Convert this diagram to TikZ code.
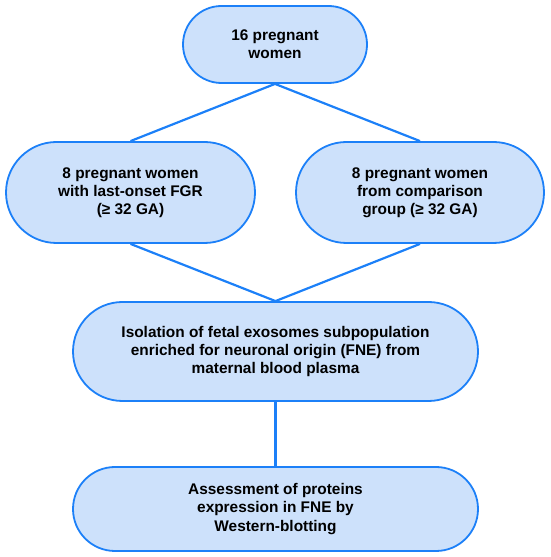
\documentclass[tikz,border=0pt]{standalone}
\usepackage{fontspec}
\setmainfont{Liberation Sans}
\definecolor{pillborder}{RGB}{28,128,248}
\definecolor{pillfill}{RGB}{205,225,251}
\begin{document}
\begin{tikzpicture}[x=1pt,y=1pt,
  pill/.style={draw=pillborder, fill=pillfill, line width=1.8pt, rectangle,
    align=center, inner sep=0pt,
    font=\fontsize{15.4}{18.2}\selectfont\bfseries},
  conn/.style={draw=pillborder, line width=2.2pt}]
\useasboundingbox (0,0) rectangle (550,557);
\node[pill, minimum width=184pt, minimum height=77pt, rounded corners=38.5pt] (top) at (275,512.5) {16 pregnant\\women};
\node[pill, minimum width=249pt, minimum height=101pt, rounded corners=50.5pt] (left) at (130.5,364.5) {8 pregnant women\\with last-onset FGR\\(≥ 32 GA)};
\node[pill, minimum width=248pt, minimum height=101pt, rounded corners=50.5pt] (right) at (420,364.5) {8 pregnant women\\from comparison\\group (≥ 32 GA)};
\node[pill, minimum width=405pt, minimum height=99pt, rounded corners=49.5pt] (mid) at (275.5,205.5) {Isolation of fetal exosomes subpopulation\\enriched for neuronal origin (FNE) from\\maternal blood plasma};
\node[pill, minimum width=405pt, minimum height=84pt, rounded corners=42pt] (bot) at (275.5,48) {Assessment of proteins\\expression in FNE by\\Western-blotting};
\draw[conn] (top.south) -- (left.north);
\draw[conn] (top.south) -- (right.north);
\draw[conn] (left.south) -- (mid.north);
\draw[conn] (right.south) -- (mid.north);
\draw[conn] (mid.south) -- (bot.north);
\end{tikzpicture}
\end{document}
